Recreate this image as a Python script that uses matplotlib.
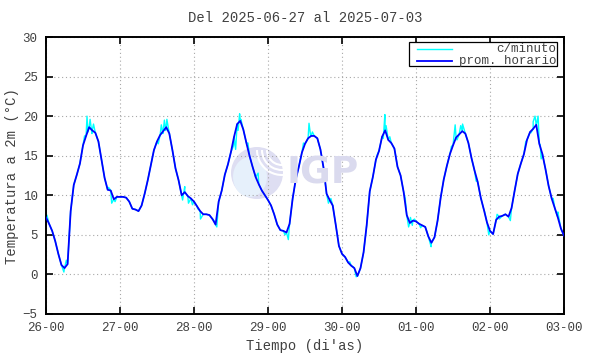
import matplotlib
matplotlib.use("Agg")
import matplotlib.pyplot as plt
from matplotlib.patches import Ellipse, Arc, Rectangle
import numpy as np

# hourly means (prom. horario), one value per hour from 26-00 to 03-00
day1 = [7.2, 6.4, 5.5, 4.2, 2.6, 1.2, 0.8, 1.3, 8.0, 11.3, 12.6, 14.0,
        16.3, 17.5, 18.6, 18.2, 17.9, 16.8, 14.5, 12.2, 10.7, 10.6, 9.5, 9.8]
day2 = [9.8, 9.8, 9.7, 9.2, 8.3, 8.2, 8.0, 8.7, 10.2, 11.9, 13.8, 15.7,
        16.8, 17.6, 18.1, 18.6, 17.8, 15.7, 13.4, 11.9, 10.0, 10.4, 9.9, 9.6]
day3 = [9.2, 8.6, 8.0, 7.6, 7.6, 7.5, 7.0, 6.3, 9.2, 10.6, 12.6, 13.9,
        15.5, 17.4, 19.0, 19.4, 18.3, 16.6, 15.0, 13.6, 12.3, 11.4, 10.6, 10.0]
day4 = [9.4, 8.7, 7.6, 6.3, 5.6, 5.5, 5.3, 6.4, 9.6, 12.0, 13.6, 15.4,
        16.5, 17.2, 17.5, 17.5, 17.2, 15.8, 13.5, 10.2, 9.4, 8.7, 6.2, 3.6]
day5 = [2.6, 2.2, 1.5, 1.1, 0.8, -0.2, 0.8, 2.8, 6.2, 10.5, 12.3, 14.5,
        15.6, 17.4, 18.2, 17.0, 16.6, 15.9, 13.6, 12.5, 10.4, 7.5, 6.5, 6.8]
day6 = [6.7, 6.4, 6.2, 6.0, 4.8, 4.0, 4.7, 6.8, 9.7, 12.0, 13.7, 15.2,
        16.3, 17.3, 17.7, 18.1, 17.8, 16.6, 14.7, 13.1, 11.7, 9.7, 8.2, 6.6]
day7 = [5.5, 5.1, 6.9, 7.3, 7.4, 7.6, 7.3, 8.4, 10.6, 12.7, 14.0, 15.2,
        17.0, 18.0, 18.4, 18.9, 16.5, 15.2, 13.3, 11.2, 9.6, 8.4, 7.2, 5.8]
last_value = [4.9]

# per-minute readings that stick out of the hourly line (hour since 26-00, degC)
spike_hours = [0.3, 5.8, 6.6, 12.5, 13.3, 13.6, 14.3, 14.9, 15.4, 20.3, 21.3, 22.4,
               36.4, 37.4, 37.9, 38.4, 38.8, 39.2, 44.3, 45.0, 46.2, 47.5,
               49.2, 50.1, 54.5, 55.4, 60.8, 61.5, 62.3, 62.8, 63.2, 65.5, 68.8,
               77.5, 78.6, 83.5, 85.3, 85.8, 86.4, 91.6, 92.4,
               98.5, 99.5, 100.6, 107.5, 109.4, 109.9, 110.3, 111.5, 116.5, 117.6, 118.2, 118.8, 119.5,
               121.5, 124.9, 131.5, 132.7, 133.3, 134.5, 135.1, 137.6, 139.5, 142.2, 143.6,
               146.3, 147.0, 150.6, 155.6, 157.3, 158.0, 158.6, 159.2, 159.6, 160.3, 160.6, 164.5, 166.0]
spike_values = [7.5, 0.3, 1.8, 17.5, 20.0, 18.0, 19.6, 17.8, 19.0, 11.0, 9.0, 9.2,
                16.5, 18.9, 17.8, 19.5, 18.2, 19.6, 9.4, 11.1, 9.0, 8.8,
                8.3, 7.0, 6.8, 6.0, 16.2, 15.8, 18.2, 20.3, 19.6, 16.6, 12.8,
                5.0, 4.4, 16.6, 19.1, 17.6, 18.0, 9.0, 9.6,
                1.6, 1.0, -0.3, 15.2, 17.2, 20.2, 18.8, 17.4, 9.6, 6.0, 7.2, 6.2, 7.0,
                5.9, 3.5, 16.2, 18.9, 17.0, 18.8, 19.0, 15.5, 11.8, 8.0, 5.0,
                7.6, 7.0, 6.8, 16.8, 17.9, 19.3, 20.0, 19.2, 20.0, 16.4, 14.6, 9.6, 7.9]

day_labels = ["26-00", "27-00", "28-00", "29-00", "30-00", "01-00", "02-00", "03-00"]
y_ticks = [-5, 0, 5, 10, 15, 20, 25, 30]

hourly = day1 + day2 + day3 + day4 + day5 + day6 + day7 + last_value
hours = np.arange(len(hourly))

# minute line: hourly points plus the spikes, in time order
m_t = np.concatenate([hours, spike_hours])
m_v = np.concatenate([hourly, spike_values])
order = np.argsort(m_t)
m_t, m_v = m_t[order], m_v[order]

txt = "#404040"
plt.rcParams["font.family"] = ["Liberation Mono", "DejaVu Sans Mono"]

fig = plt.figure(figsize=(5.9, 3.54), dpi=100)
ax = fig.add_axes([46 / 590, 40 / 354, 518 / 590, 277 / 354])

# IGP watermark
def fx(px):
    return px / 590

def fy(py):
    return 1 - py / 354

tr = fig.transFigure
ax.add_patch(Ellipse((fx(257), fy(173)), 52 / 590, 52 / 354, transform=tr,
                     facecolor="#dedef2", edgecolor="none", zorder=0.3))
ax.add_patch(Ellipse((fx(250), fy(177)), 34 / 590, 40 / 354, transform=tr,
                     facecolor="#e6f0fb", edgecolor="none", zorder=0.31))
for r in [30, 40, 50]:
    ax.add_patch(Arc((fx(282), fy(150)), r / 590, r / 354, theta1=180, theta2=290,
                     transform=tr, color="white", lw=1.5, zorder=0.32))
fig.text(fx(286), fy(174), "IGP", fontsize=27, fontweight="bold", family="DejaVu Sans",
         color="#dadaee", va="center", ha="left", zorder=0.2)

ax.plot(m_t, m_v, color="#00ffff", lw=1.0, zorder=2)
ax.plot(hours, hourly, color="#0000ff", lw=1.3, zorder=3)

ax.set_xlim(0, 168)
ax.set_ylim(-5, 30)
ax.set_xticks(np.arange(0, 169, 24))
ax.set_xticklabels(day_labels)
ax.set_yticks(y_ticks)
ax.grid(True, color="#a8a8a8", linestyle=(0, (1, 2.5)), linewidth=0.8)
ax.set_axisbelow(True)
ax.tick_params(direction="in", top=True, right=True, length=5, width=1.2,
               labelsize=9, labelcolor=txt, pad=6)
for s in ax.spines.values():
    s.set_linewidth(1.4)

# legend box drawn by hand (text right-justified like the original)
ax.add_patch(Rectangle((0.701, 0.895), 0.2855, 0.088, transform=ax.transAxes,
                       facecolor="white", edgecolor="black", lw=0.9, zorder=4))
ax.plot([0.716, 0.784], [0.955, 0.955], transform=ax.transAxes, color="#00ffff", lw=1.0, zorder=5)
ax.plot([0.716, 0.784], [0.912, 0.912], transform=ax.transAxes, color="#0000ff", lw=1.3, zorder=5)
ax.text(0.985, 0.955, "c/minuto", transform=ax.transAxes, ha="right", va="center",
        fontsize=9, color=txt, zorder=5)
ax.text(0.985, 0.912, "prom. horario", transform=ax.transAxes, ha="right", va="center",
        fontsize=9, color=txt, zorder=5)

fig.text(fx(305), fy(18), "Del 2025-06-27 al 2025-07-03", ha="center", va="center",
         fontsize=10, color=txt)
fig.text(fx(305), fy(346), "Tiempo (di'as)", ha="center", va="center", fontsize=10, color=txt)
fig.text(fx(12), fy(176), "Temperatura a 2m (°C)", rotation=90, ha="center", va="center",
         fontsize=10, color=txt)

fig.savefig("out.png", dpi=100)
